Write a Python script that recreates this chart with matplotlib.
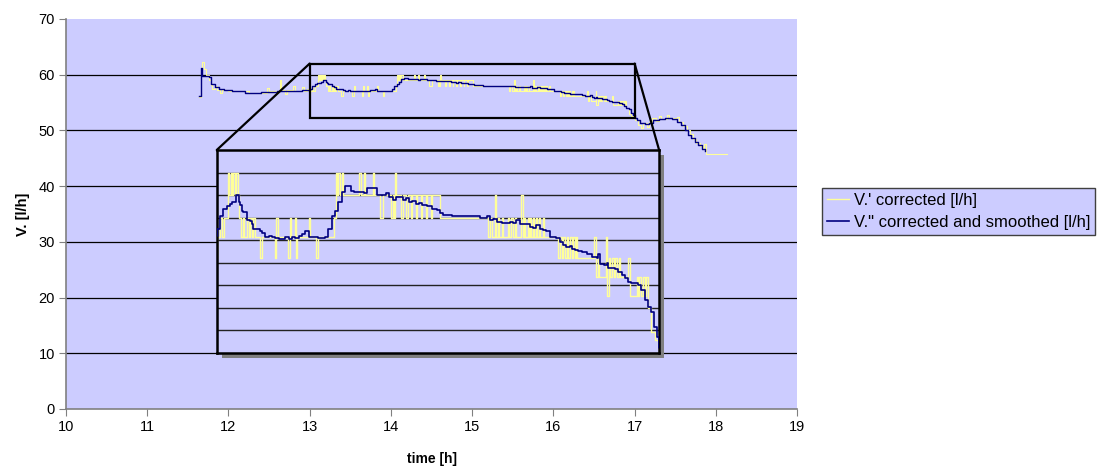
import matplotlib
matplotlib.use('Agg')
import matplotlib.pyplot as plt
import matplotlib.transforms as mtransforms
from matplotlib.patches import Rectangle, ConnectionPatch
from matplotlib.lines import Line2D

plt.rcParams['font.family'] = ['Liberation Sans', 'DejaVu Sans']

# V.'' corrected and smoothed [l/h]  (step curve, time in h)
smooth_time = [11.64, 11.66, 11.675, 11.70, 11.76, 11.79, 11.83, 11.88, 11.95, 12.05, 12.2, 12.4, 12.6, 12.75, 12.9,
               13.00, 13.03, 13.06, 13.09, 13.12, 13.14, 13.17, 13.20, 13.21, 13.23, 13.24, 13.27, 13.30, 13.32, 13.33,
               13.36, 13.39, 13.41, 13.44, 13.47, 13.50, 13.53, 13.56, 13.59, 13.62, 13.65, 13.68, 13.71, 13.74, 13.77,
               13.80, 13.83, 13.86, 13.89, 13.92, 13.95, 13.98, 14.01, 14.04, 14.07, 14.10, 14.13, 14.16, 14.18, 14.21,
               14.24, 14.30, 14.33, 14.36, 14.42, 14.45, 14.50, 14.53, 14.56, 14.59, 14.62, 14.65, 14.68, 14.71, 14.74,
               14.77, 14.80, 14.83, 14.86, 14.90, 14.95, 14.99, 15.02, 15.05, 15.13, 15.38, 15.44, 15.47, 15.50, 15.53,
               15.58, 15.62, 15.65, 15.68, 15.71, 15.74, 15.80, 15.83, 15.86, 15.89, 15.92, 15.95, 15.98, 16.01, 16.04,
               16.07, 16.10, 16.13, 16.16, 16.19, 16.21, 16.24, 16.27, 16.30, 16.35, 16.39, 16.44, 16.45, 16.47, 16.50,
               16.53, 16.54, 16.60, 16.63, 16.66, 16.69, 16.72, 16.75, 16.78, 16.81, 16.84, 16.87, 16.90, 16.93, 16.95,
               16.98, 17.00, 17.03, 17.07, 17.13, 17.18, 17.23, 17.30, 17.38, 17.46, 17.52, 17.57, 17.62, 17.66, 17.70,
               17.74, 17.78, 17.83, 17.87]
smooth_flow = [56.2, 61.2, 59.8, 59.7, 59.6, 58.4, 57.8, 57.4, 57.2, 57.0, 56.8, 56.9, 57.0, 57.1, 57.2,
               57.5, 58.05, 58.4, 58.5, 58.6, 58.7, 59.0, 58.7, 58.55, 58.3, 58.25, 57.9, 57.85, 57.7, 57.5,
               57.5, 57.4, 57.3, 57.15, 57.2, 57.15, 57.1, 57.05, 57.05, 57.15, 57.05, 57.15, 57.1, 57.2, 57.25,
               57.4, 57.15, 57.15, 57.15, 57.1, 57.1, 57.15, 57.5, 58.05, 58.3, 58.7, 59.15, 59.4, 59.4, 59.2,
               59.15, 59.15, 59.1, 59.3, 59.3, 59.0, 59.0, 59.1, 58.9, 58.8, 58.9, 58.9, 58.8, 58.85, 58.7,
               58.75, 58.6, 58.65, 58.55, 58.5, 58.4, 58.35, 58.2, 58.1, 58.05, 58.0, 58.05, 57.9, 57.95, 57.8,
               57.78, 57.75, 57.8, 57.75, 57.9, 57.7, 57.72, 57.6, 57.55, 57.65, 57.5, 57.45, 57.4, 57.15, 57.15,
               57.1, 56.9, 56.8, 56.7, 56.75, 56.6, 56.55, 56.5, 56.45, 56.4, 56.25, 56.2, 56.4, 55.95, 55.9,
               56.0, 55.75, 55.7, 55.6, 55.45, 55.3, 55.15, 55.1, 55.1, 55.0, 54.8, 54.35, 54.05, 53.8, 53.15,
               52.7, 52.2, 51.9, 51.4, 51.1, 51.4, 51.9, 52.1, 52.3, 52.1, 51.6, 51.0, 50.0, 49.2, 48.6,
               48.0, 47.3, 46.7, 46.3]

# V.' corrected [l/h]  (raw step signal)
raw_time = [11.64, 11.66, 11.68, 11.70, 11.72, 11.76, 11.78, 11.80, 11.84, 11.86, 11.90, 11.92, 12.0, 12.25, 12.47,
            12.50, 12.63, 12.65, 12.70, 12.72, 12.80, 12.82, 12.90, 12.93, 12.97,
            13.000, 13.006, 13.03, 13.045, 13.07, 13.10, 13.115, 13.125, 13.14, 13.15, 13.165, 13.175, 13.19, 13.205,
            13.22, 13.235, 13.25, 13.27, 13.29, 13.30, 13.315, 13.33, 13.345, 13.39, 13.405, 13.525, 13.54, 13.555,
            13.645, 13.66, 13.675, 13.705, 13.72, 13.73, 13.83, 13.84, 13.90, 13.92, 14.06, 14.08, 14.09, 14.10,
            14.11, 14.13, 14.145, 14.29, 14.30, 14.335, 14.345, 14.41, 14.42, 14.475, 14.50, 14.58, 14.59, 14.60,
            14.61, 14.62, 14.67, 14.68, 14.715, 14.725, 14.76, 14.77, 14.805, 14.815, 14.85, 14.86, 14.895, 14.905,
            14.94, 14.95, 15.015,
            15.45, 15.47, 15.49, 15.515, 15.525, 15.545, 15.555, 15.575, 15.59, 15.635, 15.645, 15.665, 15.675,
            15.695, 15.705, 15.755, 15.765, 15.78, 15.79, 15.81, 15.82, 15.835, 15.845, 15.86, 15.87, 15.885, 15.895,
            15.91, 15.92, 15.95, 15.96, 16.085, 16.10, 16.12, 16.135, 16.15, 16.165, 16.18, 16.195, 16.21, 16.225,
            16.24, 16.25, 16.26, 16.415, 16.43, 16.445, 16.46, 16.52, 16.53, 16.545, 16.56, 16.575, 16.59, 16.605,
            16.62, 16.635, 16.645, 16.72, 16.735, 16.80, 16.81, 16.82, 16.835, 16.85, 16.87, 16.885, 16.90, 16.93,
            16.96, 16.99,
            17.0, 17.04, 17.08, 17.10, 17.15, 17.18, 17.22, 17.26, 17.30, 17.33, 17.40, 17.42, 17.52, 17.55, 17.60,
            17.64, 17.68, 17.72, 17.76, 17.80, 17.84, 17.86, 17.88, 18.14]
raw_flow = [56.0, 60.5, 62.2, 61.0, 60.0, 59.0, 58.2, 57.5, 58.0, 57.3, 56.8, 57.3, 57.0, 56.8, 57.6,
            57.0, 59.0, 57.2, 56.6, 57.2, 58.0, 57.0, 57.8, 57.0, 57.5,
            56.2, 57.15, 58.0, 57.15, 58.0, 60.0, 59.0, 60.0, 59.0, 60.0, 59.0, 60.0, 59.0, 58.0,
            57.15, 58.0, 57.15, 58.0, 57.15, 58.0, 57.15, 58.0, 57.15, 56.2, 57.15, 56.2, 58.0, 57.15,
            56.2, 58.0, 57.15, 58.0, 56.2, 57.15, 58.0, 57.15, 56.2, 57.15, 58.0, 60.0, 59.0, 60.0,
            59.0, 60.0, 59.0, 60.0, 59.0, 60.0, 59.0, 60.0, 59.0, 58.0, 59.0, 58.0, 59.0, 58.0,
            60.0, 59.0, 58.0, 59.0, 58.0, 59.0, 58.0, 59.0, 58.0, 59.0, 58.0, 59.0, 58.0, 59.0,
            58.0, 59.0, 58.0,
            57.15, 58.0, 57.15, 59.0, 57.15, 58.0, 57.15, 58.0, 57.15, 58.0, 57.15, 58.0, 57.15,
            58.0, 57.15, 59.0, 57.15, 58.0, 57.15, 58.0, 57.15, 58.0, 57.15, 58.0, 57.15, 58.0, 57.15,
            58.0, 57.15, 58.0, 57.15, 56.2, 57.15, 56.2, 57.15, 56.2, 57.15, 56.2, 57.15, 56.2, 57.15,
            56.2, 57.15, 56.2, 57.15, 55.35, 56.2, 55.35, 57.15, 54.5, 56.2, 55.35, 56.2, 55.35, 56.2,
            55.35, 56.2, 55.35, 56.2, 54.5, 55.35, 54.5, 55.35, 54.5, 55.35, 54.5, 55.35, 54.0, 52.9,
            52.55, 52.2,
            51.8, 51.0, 50.5, 51.3, 50.6, 51.6, 52.2, 51.7, 52.5, 52.1, 52.8, 52.2, 52.4, 51.5, 50.8,
            50.0, 49.3, 48.5, 47.8, 47.2, 46.9, 47.5, 45.7, 45.7]

labels = ["V.' corrected [l/h]", 'V." corrected and smoothed [l/h]']
zoom_box = (13.0, 17.0, 52.3, 62.0)   # region magnified in the inset
inset_ylim = (52, 61)

bg = '#CCCCFF'
yellow = '#FFFF99'
navy = '#000080'

fig = plt.figure(figsize=(11.07, 4.75), dpi=100)
ax = fig.add_axes([0.0596, 0.139, 0.6604, 0.821])
ax.set_facecolor(bg)
ax.set_xlim(10, 19)
ax.set_ylim(0, 70)
ax.set_xticks(range(10, 20))
ax.set_yticks(range(0, 80, 10))
for y in range(10, 70, 10):
    ax.axhline(y, color='black', lw=0.9, zorder=1)
for s in ['top', 'right']:
    ax.spines[s].set_visible(False)
for s in ['left', 'bottom']:
    ax.spines[s].set_color('#808080')
    ax.spines[s].set_linewidth(1.2)
ax.tick_params(direction='out', length=5, color='#808080', labelsize=10.5, pad=3)
ax.set_xlabel('time [h]', fontsize=10, fontweight='bold', labelpad=13)
ax.set_ylabel('V. [l/h]', fontsize=10.5, fontweight='bold', labelpad=6)

ax.plot(raw_time, raw_flow, drawstyle='steps-post', color=yellow, lw=0.8, zorder=2)
ax.plot(smooth_time, smooth_flow, drawstyle='steps-post', color=navy, lw=1.0, zorder=3)

x0, x1, y0, y1 = zoom_box
ax.add_patch(Rectangle((x0, y0), x1 - x0, y1 - y0, fill=False, ec='black', lw=1.6, zorder=4))

# inset with magnified view
axins = fig.add_axes([0.1958, 0.2575, 0.3996, 0.4267])
axins.set_zorder(3)
axins.set_facecolor(bg)
axins.set_xlim(x0, x1)
axins.set_ylim(*inset_ylim)
axins.set_xticks([])
axins.set_yticks([])
for y in range(inset_ylim[0] + 1, inset_ylim[1]):
    axins.axhline(y, color='#222222', lw=1.0, zorder=1)
for s in axins.spines.values():
    s.set_color('black')
    s.set_linewidth(1.8)
axins.plot(raw_time, raw_flow, drawstyle='steps-post', color=yellow, lw=1.0, zorder=2)
axins.plot(smooth_time, smooth_flow, drawstyle='steps-post', color=navy, lw=1.2, zorder=3)

shadow_tr = axins.transAxes + mtransforms.ScaledTranslation(0.05, -0.05, fig.dpi_scale_trans)
shadow = Rectangle((0, 0), 1, 1, transform=shadow_tr, fc='#808080', ec='none', zorder=2)
fig.add_artist(shadow)

for xa in [x0, x1]:
    con = ConnectionPatch(xyA=(xa, y1), coordsA=ax.transData,
                          xyB=(xa, inset_ylim[1]), coordsB=axins.transData,
                          color='black', lw=1.6, zorder=4)
    fig.add_artist(con)

handles = [Line2D([], [], color=yellow, lw=1.0), Line2D([], [], color=navy, lw=1.2)]
leg = fig.legend(handles, labels, loc='upper left', bbox_to_anchor=(822 / 1107, 1 - 188 / 475),
                 fontsize=12, frameon=True, fancybox=False, facecolor=bg, edgecolor='#404040',
                 framealpha=1, handlelength=1.3, handletextpad=0.3, borderpad=0.3,
                 labelspacing=0.4, borderaxespad=0)
leg.get_frame().set_linewidth(1.0)

fig.savefig('out.png', dpi=100)
